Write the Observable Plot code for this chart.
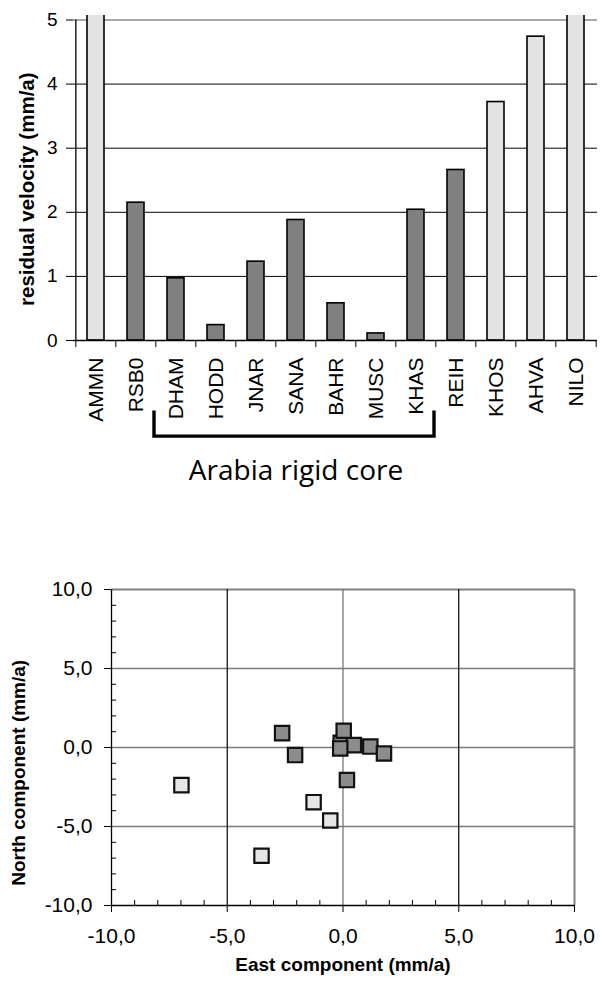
<!DOCTYPE html>
<html><head><meta charset="utf-8">
<script src="https://cdn.jsdelivr.net/npm/d3@7"></script>
<script src="https://cdn.jsdelivr.net/npm/@observablehq/plot@0.6"></script>
<style>
body{margin:0;background:#fff;font-family:Arial,"Liberation Sans",sans-serif;}
#c{width:600px;}
svg{display:block;overflow:visible}
</style></head><body><div id="c"></div>
<script>
// ---- data: residual velocity bar chart ----
const stations = ["AMMN","RSB0","DHAM","HODD","JNAR","SANA","BAHR","MUSC","KHAS","REIH","KHOS","AHVA","NILO"];
const velocity = [7.4, 2.15, 0.97, 0.24, 1.23, 1.88, 0.58, 0.11, 2.04, 2.66, 3.72, 4.74, 7.7];
const kind = ["outer","inner","inner","inner","inner","inner","inner","inner","inner","inner","outer","outer","outer"];
const coreStations = ["DHAM","HODD","JNAR","SANA","BAHR","MUSC","KHAS"];
const coreLabel = "Arabia rigid core";
const barTicks = [0,1,2,3,4,5];

// ---- data: scatter (east / north components) ----
const eastInner  = [-0.1, 0.47, 1.18, 1.77, -0.12, 0.03, -2.63, -2.07, 0.17];
const northInner = [0.3, 0.15, 0.06, -0.38, -0.06, 1.06, 0.91, -0.48, -2.06];
const eastOuter  = [-6.98, -1.27, -0.55, -3.52];
const northOuter = [-2.38, -3.46, -4.62, -6.85];
const scTicks = [-10,-5,0,5,10];

const fillOf = {inner: "#808080", outer: "#e3e3e3"};
const FONT = "Arial, 'Liberation Sans', sans-serif";

const rows = stations.map((s, i) => ({station: s, v: velocity[i], kind: kind[i]}));
const W = 600, ML = 73, MR = 3;
const step = (W - ML - MR) / stations.length;

const bar = Plot.plot({
  width: W, height: 530,
  marginTop: 15, marginLeft: ML, marginRight: MR, marginBottom: 190,
  style: {fontFamily: FONT, color: "#000", background: "#fff"},
  x: {domain: stations, paddingInner: 0.58, paddingOuter: 0.29, axis: null},
  y: {domain: [0, 5.07], axis: null},
  marks: [
    Plot.ruleY(barTicks.filter(d => d > 0 && d < 5), {stroke: "#000", strokeWidth: 1}),
    Plot.ruleY([5], {stroke: "#8a8a8a", strokeWidth: 1.5}),
    Plot.barY(rows, {x: "station", y: "v", fill: d => fillOf[d.kind], stroke: "#000", strokeWidth: 1.6, clip: true}),
    Plot.ruleX(stations, {x: d => d, y1: 0, y2: -0.11, dx: -step / 2, stroke: "#000"}),
    Plot.ruleX([stations[stations.length - 1]], {x: d => d, y1: 0, y2: -0.11, dx: step / 2, stroke: "#000"}),
    Plot.ruleY([0], {stroke: "#000", strokeWidth: 1.3}),
    Plot.ruleX([0], {x: () => stations[0], y1: 0, y2: 5, dx: -step / 2, stroke: "#000", strokeWidth: 1.3}),
    Plot.axisY({ticks: barTicks, tickSize: 7, tickPadding: 9, fontSize: 19, tickFormat: d => String(d), label: null}),
    Plot.text(stations, {x: d => d, y: 0, text: d => d, rotate: -90, textAnchor: "end", lineAnchor: "middle", dy: 17, fontSize: 21}),
    Plot.text(["residual velocity (mm/a)"], {x: () => stations[0], y: () => 2.36, dx: -step / 2 - 48, rotate: -90, textAnchor: "middle", lineAnchor: "middle", fontSize: 20.5, fontWeight: "bold"}),
    Plot.text([coreLabel], {x: () => coreStations[3], y: -2.03, text: d => d, fontSize: 28, fontFamily: "'Open Sans', sans-serif", lineAnchor: "middle"})
  ]
});

// bracket under the core stations, positioned from Plot's own scales
{
  const xs = bar.scale("x"), ys = bar.scale("y");
  const gap = (xs.step - xs.bandwidth) / 2;
  const left = xs.apply(coreStations[0]) - gap;
  const right = xs.apply(coreStations[coreStations.length - 1]) + xs.bandwidth + gap;
  const yTop = ys.apply(-1.1), yBot = ys.apply(-1.5);
  d3.select(bar).append("path")
    .attr("d", `M${left - 1.5},${yTop}V${yBot}H${right - 1.5}V${yTop}`)
    .attr("fill", "none").attr("stroke", "#000").attr("stroke-width", 3.4);
}

const inner = eastInner.map((e, i) => ({e, n: northInner[i]}));
const outer = eastOuter.map((e, i) => ({e, n: northOuter[i]}));
const minor = d3.range(-10, 11, 1).filter(d => d % 5 !== 0);
const fmt = d => d.toFixed(1).replace(".", ",");

const sc = Plot.plot({
  width: W, height: 457,
  marginTop: 59, marginBottom: 82, marginLeft: 111, marginRight: 26,
  style: {fontFamily: FONT, color: "#000", background: "#fff"},
  x: {domain: [-10, 10], axis: null},
  y: {domain: [-10, 10], axis: null},
  marks: [
    Plot.ruleY([-5, 0, 5], {stroke: "#7a7a7a", strokeWidth: 1.3}),
    Plot.ruleY([10], {stroke: "#808080", strokeWidth: 2}),
    Plot.ruleX([-5, 5], {stroke: "#000", strokeWidth: 1.2}),
    Plot.ruleX([0], {stroke: "#7a7a7a", strokeWidth: 1.3}),
    Plot.ruleX([10], {stroke: "#808080", strokeWidth: 2}),
    Plot.ruleX([-10], {stroke: "#000", strokeWidth: 1.3}),
    Plot.ruleY([-10], {stroke: "#000", strokeWidth: 1.3}),
    Plot.ruleY(minor, {x1: -10, x2: -9.78, stroke: "#000"}),
    Plot.ruleX(minor, {y1: -10, y2: -9.68, stroke: "#000"}),
    Plot.axisY({ticks: scTicks, tickSize: 7, tickPadding: 12, fontSize: 21, tickFormat: fmt, label: null}),
    Plot.axisX({ticks: scTicks, tickSize: 7, tickPadding: 16, fontSize: 21, tickFormat: fmt, label: null}),
    Plot.dot(outer, {x: "e", y: "n", symbol: "square", r: 8.1, fill: "#e6e6e6", stroke: "#111", strokeWidth: 2.2}),
    Plot.dot(inner, {x: "e", y: "n", symbol: "square", r: 8.1, fill: "#8c8c8c", stroke: "#111", strokeWidth: 2.2}),
    Plot.text(["East component (mm/a)"], {x: () => 0, y: () => -10, dy: 59, fontSize: 19, fontWeight: "bold"}),
    Plot.text(["North component (mm/a)"], {x: () => -10, y: () => -1.6, dx: -93, rotate: -90, fontSize: 19, fontWeight: "bold"})
  ]
});

document.getElementById("c").append(bar, sc);
</script>
</body></html>
